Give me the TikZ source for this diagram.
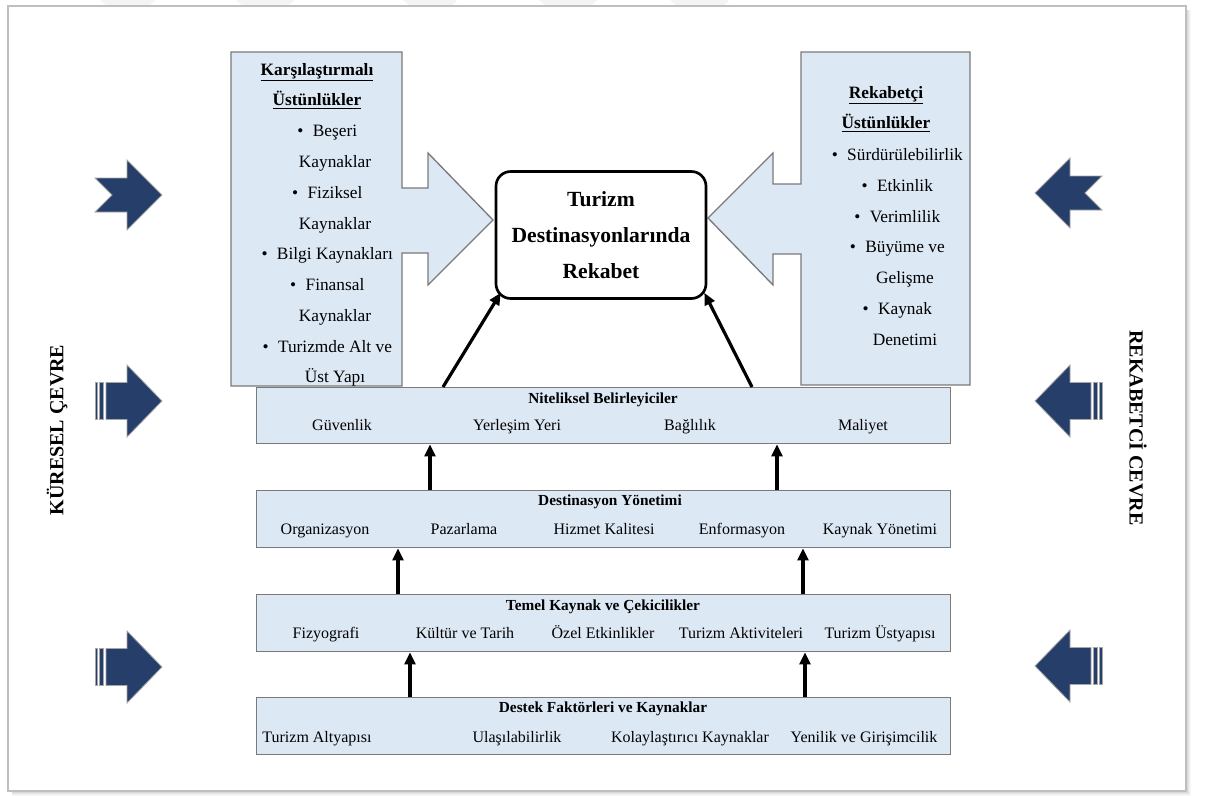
\documentclass[tikz,border=0pt]{standalone}
\usepackage{fontspec}
\setmainfont{Liberation Serif}
\usetikzlibrary{arrows.meta,calc}
\definecolor{navy}{HTML}{263F6A}
\definecolor{panel}{HTML}{DDE8F5}
\definecolor{rimgray}{HTML}{7A7A7A}

\begin{document}
\begin{tikzpicture}[x=0.75pt,y=-0.75pt,
  panelbox/.style={draw=rimgray, fill=panel, line width=1pt},
  rowbox/.style={panelbox, anchor=north west, minimum width=520.5pt, inner sep=0pt},
  rowtitle/.style={font=\fontsize{11.5}{13}\selectfont\bfseries, inner sep=0pt, anchor=base},
  rowitem/.style={font=\fontsize{12}{14}\selectfont, inner sep=0pt, anchor=base},
  headtxt/.style={font=\fontsize{13}{23}\selectfont\bfseries, align=center, inner sep=0pt},
  listtxt/.style={font=\fontsize{13}{23.06}\selectfont, align=center, inner sep=0pt},
  sidetxt/.style={font=\fontsize{15}{17}\selectfont\bfseries, inner sep=0pt},
  uparrow/.style={line width=2.4pt, -{Triangle[length=9pt,width=8pt]}},
  forcefill/.style={fill=navy, draw=gray!70, line width=0.6pt},
  notcharrow/.pic={
    \filldraw[forcefill] (0,-17) -- (32,-17) -- (32,-35) -- (67,0) -- (32,35)
      -- (32,17) -- (0,17) -- (17,0) -- cycle;},
  bararrow/.pic={
    \filldraw[forcefill] (11,-18.5) -- (32,-18.5) -- (32,-36) -- (67,0) -- (32,36)
      -- (32,18.5) -- (11,18.5) -- cycle;
    \filldraw[forcefill] (0,-18.5) rectangle (2.5,18.5);
    \filldraw[forcefill] (4.5,-18.5) rectangle (8.5,18.5);}
]
\useasboundingbox (0,0) rectangle (1208,796);

% faint stripes along the top edge
\foreach \a/\b in {100/155, 236/294, 403/457, 539/597, 670/729}
  \fill[gray!9] (\a,0) -- (\b,0) -- (\b-5,5) -- (\a+6,5) -- cycle;

% page with soft shadow
\foreach \d/\c in {4/6, 3/12, 2/20, 1/30}
  \draw[gray!\c, line width=1.2pt] (1186+\d,10) -- (1186+\d,791+\d) -- (12,791+\d);
\filldraw[fill=white, draw=gray!50, line width=0.8pt] (8,6) rectangle (1186,791);

% comparative advantages callout
\filldraw[panelbox] (231,52) -- (402,52) -- (402,188) -- (428,188) -- (428,153)
  -- (493,220) -- (428,285) -- (428,253) -- (402,253) -- (402,386) -- (231,386) -- cycle;
% competitive advantages callout
\filldraw[panelbox] (970,52) -- (801,52) -- (801,184) -- (773,184) -- (773,153)
  -- (708,218) -- (773,285) -- (773,254) -- (801,254) -- (801,385) -- (970,385) -- cycle;

\node[headtxt] (lefthead) at (317,86) {\underline{Karşılaştırmalı}\\\underline{Üstünlükler}};
\node[listtxt] (leftlist) at (335,256) {%
  \llap{\textbullet\hspace{7pt}}Beşeri\\Kaynaklar\\
  \llap{\textbullet\hspace{7pt}}Fiziksel\\Kaynaklar\\
  \llap{\textbullet\hspace{7pt}}Bilgi Kaynakları\\
  \llap{\textbullet\hspace{7pt}}Finansal\\Kaynaklar\\
  \llap{\textbullet\hspace{7pt}}Turizmde Alt ve\\Üst Yapı};

\node[headtxt] (righthead) at (886,109) {\underline{Rekabetçi}\\\underline{Üstünlükler}};
\node[listtxt] (rightlist) at (905,247) {%
  \llap{\textbullet\hspace{7pt}}Sürdürülebilirlik\\
  \llap{\textbullet\hspace{7pt}}Etkinlik\\
  \llap{\textbullet\hspace{7pt}}Verimlilik\\
  \llap{\textbullet\hspace{7pt}}Büyüme ve\\Gelişme\\
  \llap{\textbullet\hspace{7pt}}Kaynak\\Denetimi};

% central goal
\node[draw, fill=white, line width=2pt, rounded corners=11pt, minimum width=157.5pt,
  minimum height=95.25pt, align=center, inner sep=0pt,
  font=\fontsize{16.2}{27}\selectfont\bfseries] (goal) at (601,235)
  {Turizm\\Destinasyonlarında\\Rekabet};

% layered determinants
\node[rowbox, minimum height=42pt] (nit) at (256,387) {};
\node[rowbox, minimum height=42.75pt] (dest) at (256,490) {};
\node[rowbox, minimum height=42.75pt] (temel) at (256,594) {};
\node[rowbox, minimum height=42.75pt] (destek) at (256,697) {};

\node[rowtitle] (nitt) at (603,403) {Niteliksel Belirleyiciler};
\node[rowitem] (n1) at (342,430.5) {Güvenlik};
\node[rowitem] (n2) at (517,430.5) {Yerleşim Yeri};
\node[rowitem] (n3) at (690,430.5) {Bağlılık};
\node[rowitem] (n4) at (863,430.5) {Maliyet};

\node[rowtitle] (destt) at (610,505) {Destinasyon Yönetimi};
\node[rowitem] (d1) at (325,534.5) {Organizasyon};
\node[rowitem] (d2) at (464,534.5) {Pazarlama};
\node[rowitem] (d3) at (604,534.5) {Hizmet Kalitesi};
\node[rowitem] (d4) at (742,534.5) {Enformasyon};
\node[rowitem] (d5) at (880,534.5) {Kaynak Yönetimi};

\node[rowtitle] (temelt) at (603,610) {Temel Kaynak ve Çekicilikler};
\node[rowitem] (t1) at (326,638.5) {Fizyografi};
\node[rowitem] (t2) at (465,638.5) {Kültür ve Tarih};
\node[rowitem] (t3) at (603,638.5) {Özel Etkinlikler};
\node[rowitem] (t4) at (741,638.5) {Turizm Aktiviteleri};
\node[rowitem] (t5) at (880,638.5) {Turizm Üstyapısı};

\node[rowtitle] (destekt) at (603,712) {Destek Faktörleri ve Kaynaklar};
\node[rowitem] (s1) at (317,742.5) {Turizm Altyapısı};
\node[rowitem] (s2) at (517,742.5) {Ulaşılabilirlik};
\node[rowitem] (s3) at (690,742.5) {Kolaylaştırıcı Kaynaklar};
\node[rowitem] (s4) at (864,742.5) {Yenilik ve Girişimcilik};

% upward influence
\draw[uparrow] (nit.north -| 443,0) -- ($(goal.south west)+(6,-7)$);
\draw[uparrow] (nit.north -| 752,0) -- ($(goal.south east)+(-3,-7)$);
\draw[uparrow] (dest.north -| 430,0) -- (nit.south -| 430,0);
\draw[uparrow] (dest.north -| 777,0) -- (nit.south -| 777,0);
\draw[uparrow] (temel.north -| 398,0) -- (dest.south -| 398,0);
\draw[uparrow] (temel.north -| 803,0) -- (dest.south -| 803,0);
\draw[uparrow] (destek.north -| 410,0) -- (temel.south -| 410,0);
\draw[uparrow] (destek.north -| 805,0) -- (temel.south -| 805,0);

% environment forces
\pic at (95,195) {notcharrow};
\pic at (95,401) {bararrow};
\pic at (95,667) {bararrow};
\pic[xscale=-1] at (1102,193) {notcharrow};
\pic[xscale=-1] at (1102,401) {bararrow};
\pic[xscale=-1] at (1102,666) {bararrow};

\node[sidetxt, rotate=90] (globalenv) at (57,430) {KÜRESEL ÇEVRE};
\node[sidetxt, rotate=-90] (rivalenv) at (1138,428) {REKABETCİ CEVRE};
\end{tikzpicture}
\end{document}
